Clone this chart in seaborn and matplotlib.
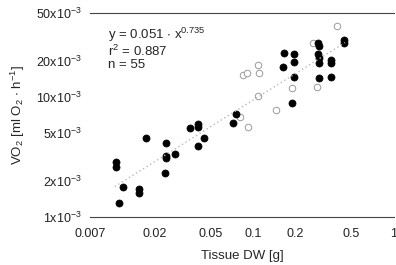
import numpy as np
import pandas as pd
import matplotlib
matplotlib.use("Agg")
import matplotlib.pyplot as plt
import seaborn as sns
from matplotlib.ticker import FixedLocator, NullLocator

# --- data ---
# filled circles
dw_filled = [0.0176, 0.01067, 0.0108, 0.0120, 0.0156, 0.0156, 0.01127, 0.0242,
             0.0243, 0.0243, 0.0281, 0.0239, 0.0361, 0.0407, 0.0407, 0.0449,
             0.0407, 0.0757, 0.0725, 0.166, 0.195, 0.164, 0.195, 0.195, 0.188,
             0.290, 0.295, 0.290, 0.295, 0.295, 0.356, 0.356, 0.295, 0.356,
             0.442, 0.442]
vo2_filled = [4.52, 2.89, 2.59, 1.79, 1.71, 1.59, 1.30, 4.11,
              3.22, 3.12, 3.33, 2.31, 5.48, 5.95, 5.65, 4.52,
              3.92, 7.20, 6.03, 23.1, 22.8, 17.8, 19.4, 14.7, 8.85,
              27.9, 26.7, 22.6, 21.0, 19.0, 20.3, 19.0, 14.3, 14.7,
              29.8, 27.9]
# open circles
dw_open = [0.0845, 0.0902, 0.109, 0.111, 0.109, 0.0809, 0.0926, 0.146,
           0.188, 0.392, 0.265, 0.283]
vo2_open = [15.2, 15.9, 18.4, 15.9, 10.2, 6.84, 5.65, 7.78,
            11.9, 39.2, 27.9, 12.2]

# fit y = a * x^b
fit_a = 0.051
fit_b = 0.735
fit_range = [0.0105, 0.45]

x_ticks = [0.007, 0.02, 0.05, 0.1, 0.2, 0.5, 1]
x_ticklabels = ["0.007", "0.02", "0.05", "0.1", "0.2", "0.5", "1"]
y_ticks = [1, 2, 5, 10, 20, 50]  # x10^-3

# --- frames ---
filled = pd.DataFrame({"dw": dw_filled, "vo2": np.array(vo2_filled) * 1e-3})
opened = pd.DataFrame({"dw": dw_open, "vo2": np.array(vo2_open) * 1e-3})
fx = np.geomspace(fit_range[0], fit_range[1], 50)
fit = pd.DataFrame({"dw": fx, "vo2": fit_a * fx ** fit_b})

sns.set_style("white")
plt.rcParams["font.family"] = ["Liberation Sans", "DejaVu Sans"]
plt.rcParams["mathtext.fontset"] = "custom"
plt.rcParams["mathtext.rm"] = "Liberation Sans"
plt.rcParams["mathtext.it"] = "Liberation Sans"
plt.rcParams["mathtext.default"] = "regular"

fig = plt.figure(figsize=(3.96, 2.65), dpi=100)
ax = fig.add_axes([0.227, 0.181, 0.768, 0.770])

sns.lineplot(data=fit, x="dw", y="vo2", ax=ax, color="#b8b8b8",
             linestyle=(0, (1, 2)), linewidth=1.0)
sns.scatterplot(data=opened, x="dw", y="vo2", ax=ax, s=22, marker="o",
                facecolor="white", edgecolor="#9a9a9a", linewidth=0.7)
sns.scatterplot(data=filled, x="dw", y="vo2", ax=ax, s=26, marker="o",
                color="black", edgecolor="black", linewidth=0.5)

ax.set_xscale("log")
ax.set_yscale("log")
ax.set_xlim(0.007, 1.0)
ax.set_ylim(1e-3, 50e-3)

ax.xaxis.set_major_locator(FixedLocator(x_ticks))
ax.xaxis.set_minor_locator(NullLocator())
ax.set_xticklabels(x_ticklabels)
ax.yaxis.set_major_locator(FixedLocator([v * 1e-3 for v in y_ticks]))
ax.yaxis.set_minor_locator(NullLocator())
ax.set_yticklabels([f"{v}x10$^{{-3}}$" for v in y_ticks])

ax.tick_params(axis="x", length=0, pad=8, labelsize=9, colors="#222222")
ax.tick_params(axis="y", length=2, width=0.6, pad=4, labelsize=9,
               colors="#222222")

for s in ["left", "right"]:
    ax.spines[s].set_visible(False)
for s in ["top", "bottom"]:
    ax.spines[s].set_color("#444444")
    ax.spines[s].set_linewidth(0.8)

ax.set_xlabel("Tissue DW [g]", fontsize=9.5, labelpad=7)
ax.set_ylabel("VO$_2$ [ml O$_2$ $\\cdot$ h$^{-1}$]", fontsize=9.5, labelpad=6)

# fit statistics, one block of text
ax.text(0.059, 0.936,
        "y = 0.051 $\\cdot$ x$^{0.735}$\nr$^2$ = 0.887\nn = 55",
        transform=ax.transAxes, fontsize=9.5, va="top", ha="left",
        linespacing=1.0)

fig.savefig("out.png", dpi=100)
